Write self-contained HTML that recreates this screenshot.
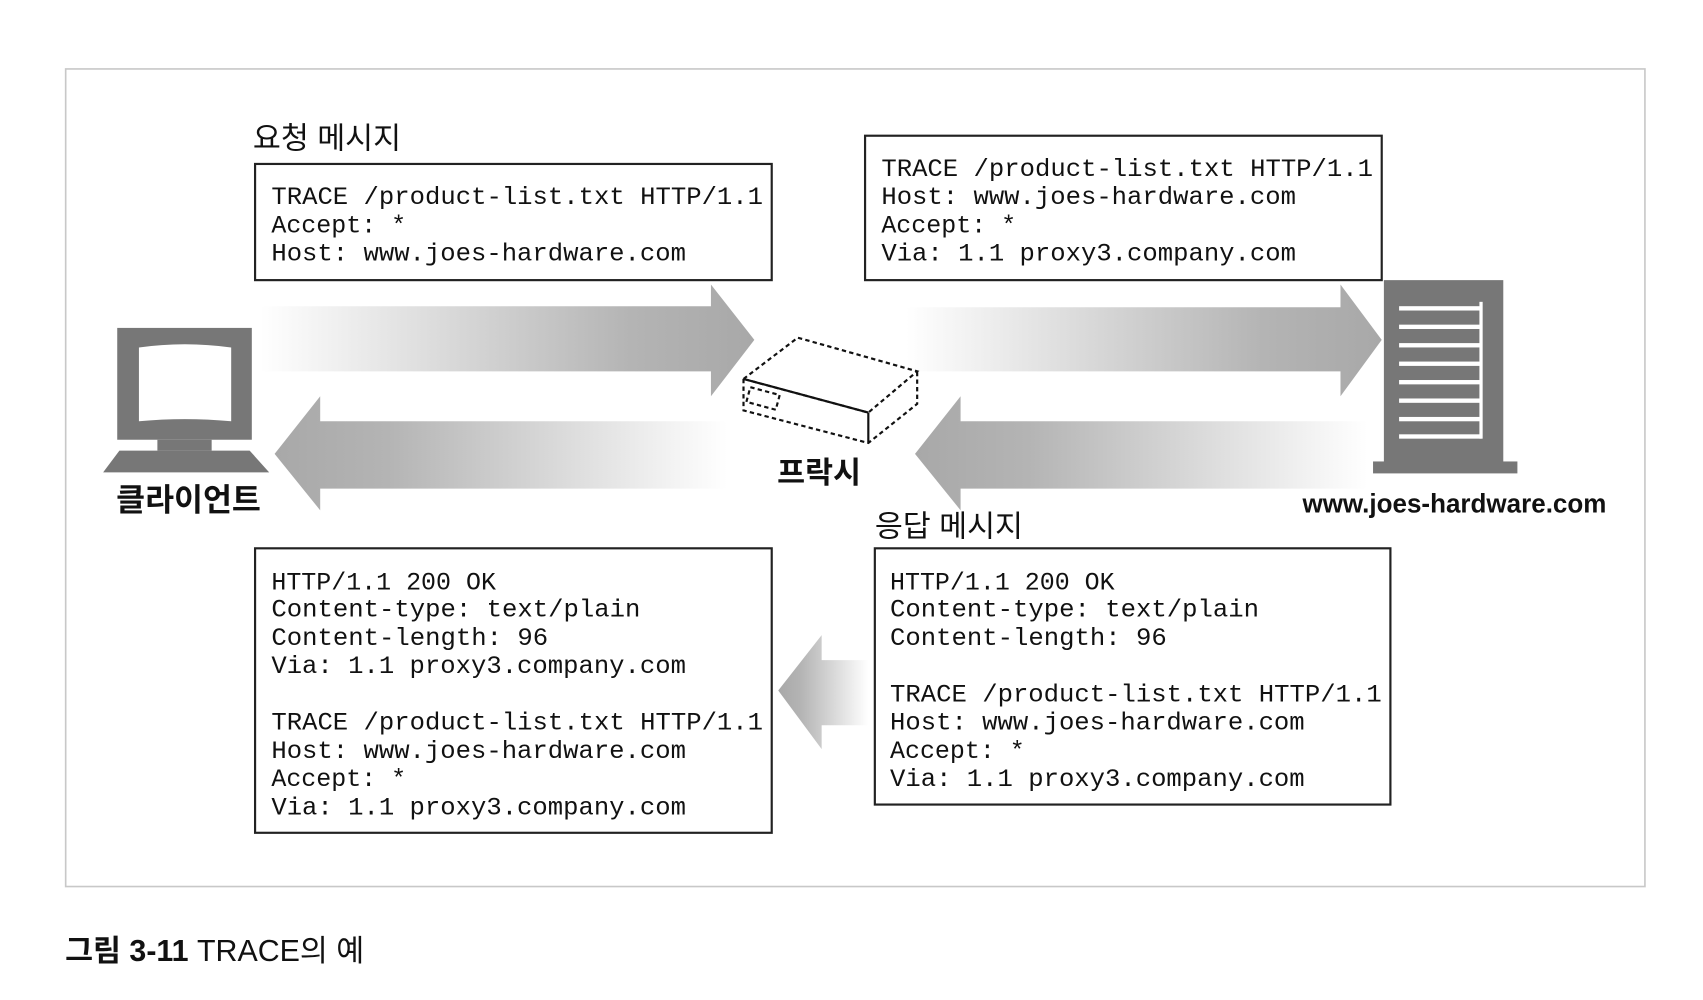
<!DOCTYPE html>
<html><head><meta charset="utf-8"><style>
html,body{margin:0;padding:0;background:#fff;width:1703px;height:1000px;overflow:hidden}
svg{display:block}
.m{font-family:"Liberation Mono","DejaVu Sans Mono",monospace;font-size:23px;fill:#111}
.k{font-family:"Liberation Sans","Noto Sans CJK KR",sans-serif;fill:#111}
</style></head><body>
<svg width="1703" height="1000" viewBox="0 0 1569 921" preserveAspectRatio="none" xmlns="http://www.w3.org/2000/svg">
<defs>
<linearGradient id="gr" x1="0" x2="1" y1="0" y2="0"><stop offset="0" stop-color="#fff"/><stop offset="0.75" stop-color="#b4b4b4"/><stop offset="1" stop-color="#a8a8a8"/></linearGradient>
<linearGradient id="gl" x1="1" x2="0" y1="0" y2="0"><stop offset="0" stop-color="#fff"/><stop offset="0.75" stop-color="#b4b4b4"/><stop offset="1" stop-color="#a8a8a8"/></linearGradient>
</defs>
<rect x="60.5" y="63.5" width="1455" height="753" fill="#fff" stroke="#c8c8c8" stroke-width="1.5"/>
<polygon points="240,282 655,282 655,262 695,313 655,365 655,342 240,342" fill="url(#gr)"/>
<polygon points="835,283 1235,283 1235,262 1273,313 1235,365 1235,342 835,342" fill="url(#gr)"/>
<polygon points="253,418 295,365 295,388 670,388 670,450 295,450 295,470" fill="url(#gl)"/>
<polygon points="843,418 885,365 885,388 1260,388 1260,450 885,450 885,470" fill="url(#gl)"/>
<polygon points="717,636 757,585 757,608 800,608 800,668 757,668 757,690" fill="url(#gl)"/>
<rect x="108" y="302" width="124" height="103" fill="#777"/>
<path d="M128,320 Q170,314 213,320 L213,388 Q170,384 128,388 Z" fill="#fff"/>
<rect x="145" y="405" width="50" height="10" fill="#777"/>
<polygon points="110,415 230,415 248,435 95,435" fill="#777"/>
<text class="k" x="107" y="470" font-size="29" font-weight="bold">클라이언트</text>
<rect x="1275" y="258" width="110" height="168" fill="#777"/>
<rect x="1265" y="425" width="133" height="11" fill="#777"/>
<g fill="#fff">
<rect x="1289" y="282" width="76" height="4"/><rect x="1289" y="299" width="76" height="4"/><rect x="1289" y="316" width="76" height="4"/><rect x="1289" y="333" width="76" height="4"/><rect x="1289" y="350" width="76" height="4"/><rect x="1289" y="367" width="76" height="4"/><rect x="1289" y="384" width="76" height="4"/><rect x="1289" y="400" width="76" height="4"/>
<rect x="1363" y="278" width="3" height="126"/>
</g>
<text class="k" x="1200" y="472" font-size="25" font-weight="bold" textLength="280" lengthAdjust="spacingAndGlyphs">www.joes-hardware.com</text>
<g fill="none" stroke="#111" stroke-width="2" stroke-dasharray="4,3">
<polygon points="685,349 735,311 845,342 800,380"/>
<polyline points="685,349 685,378 800,408 845,372 845,342"/>
<rect x="689" y="360" width="28" height="14" transform="rotate(15 703 367)"/>
</g>
<line x1="685" y1="349" x2="800" y2="380" stroke="#111" stroke-width="2"/>
<line x1="800" y1="380" x2="800" y2="408" stroke="#111" stroke-width="2"/>
<text class="k" x="716" y="445" font-size="28" font-weight="bold">프락시</text>
<text class="k" x="233" y="137" font-size="28">요청 메시지</text>
<text class="k" x="806" y="494" font-size="28">응답 메시지</text>
<g fill="#fff" stroke="#222" stroke-width="2">
<rect x="235" y="151" width="476" height="107"/>
<rect x="797" y="125" width="476" height="133"/>
<rect x="235" y="505" width="476" height="262"/>
<rect x="806" y="505" width="475" height="236"/>
</g>
<g class="m">
<text x="250" y="188" textLength="453" lengthAdjust="spacingAndGlyphs">TRACE /product-list.txt HTTP/1.1</text>
<text x="250" y="214">Accept: *</text>
<text x="250" y="240" textLength="382" lengthAdjust="spacingAndGlyphs">Host: www.joes-hardware.com</text>
<text x="812" y="162" textLength="453" lengthAdjust="spacingAndGlyphs">TRACE /product-list.txt HTTP/1.1</text>
<text x="812" y="188" textLength="382" lengthAdjust="spacingAndGlyphs">Host: www.joes-hardware.com</text>
<text x="812" y="214">Accept: *</text>
<text x="812" y="240" textLength="382" lengthAdjust="spacingAndGlyphs">Via: 1.1 proxy3.company.com</text>
<text x="250" y="543">HTTP/1.1 200 OK</text>
<text x="250" y="568" textLength="340" lengthAdjust="spacingAndGlyphs">Content-type: text/plain</text>
<text x="250" y="594" textLength="255" lengthAdjust="spacingAndGlyphs">Content-length: 96</text>
<text x="250" y="620" textLength="382" lengthAdjust="spacingAndGlyphs">Via: 1.1 proxy3.company.com</text>
<text x="250" y="672" textLength="453" lengthAdjust="spacingAndGlyphs">TRACE /product-list.txt HTTP/1.1</text>
<text x="250" y="698" textLength="382" lengthAdjust="spacingAndGlyphs">Host: www.joes-hardware.com</text>
<text x="250" y="724">Accept: *</text>
<text x="250" y="750" textLength="382" lengthAdjust="spacingAndGlyphs">Via: 1.1 proxy3.company.com</text>
<text x="820" y="543">HTTP/1.1 200 OK</text>
<text x="820" y="568" textLength="340" lengthAdjust="spacingAndGlyphs">Content-type: text/plain</text>
<text x="820" y="594" textLength="255" lengthAdjust="spacingAndGlyphs">Content-length: 96</text>
<text x="820" y="646" textLength="453" lengthAdjust="spacingAndGlyphs">TRACE /product-list.txt HTTP/1.1</text>
<text x="820" y="672" textLength="382" lengthAdjust="spacingAndGlyphs">Host: www.joes-hardware.com</text>
<text x="820" y="698">Accept: *</text>
<text x="820" y="724" textLength="382" lengthAdjust="spacingAndGlyphs">Via: 1.1 proxy3.company.com</text>
</g>
<text class="k" x="60" y="885" font-size="28"><tspan font-weight="bold">그림 3-11</tspan> TRACE의 예</text>
</svg>
</body></html>
